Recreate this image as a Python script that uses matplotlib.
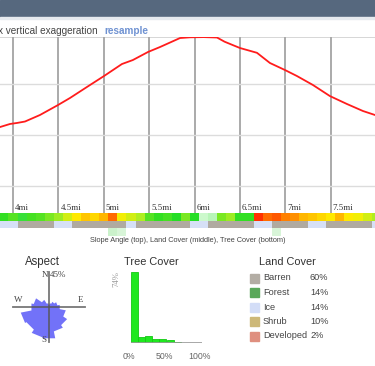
import numpy as np
import matplotlib
matplotlib.use("Agg")
import matplotlib.pyplot as plt
from matplotlib.colors import LinearSegmentedColormap
from matplotlib.patches import Rectangle, Polygon
import matplotlib.transforms as mtransforms

# ---- data ----
profile_mi = [3.857, 3.967, 4.044, 4.132, 4.297, 4.496, 4.628, 4.848, 5.002, 5.20, 5.32, 5.487,
              5.62, 5.84, 5.95, 6.10, 6.247, 6.33, 6.42, 6.50, 6.687, 6.83, 6.996, 7.128, 7.304,
              7.49, 7.678, 7.855, 7.987]
profile_ft = [11078, 11108, 11118, 11132, 11196, 11294, 11363, 11490, 11578, 11696, 11735, 11814,
              11863, 11951, 11958, 11960, 11956, 11915, 11882, 11853, 11806, 11706, 11637, 11578, 11490,
              11382, 11304, 11235, 11196]
mile_ticks = [4, 4.5, 5, 5.5, 6, 6.5, 7, 7.5]
mile_labels = ["4mi", "4.5mi", "5mi", "5.5mi", "6mi", "6.5mi", "7mi", "7.5mi"]

# 0.1 mi segments starting at 3.85 mi
slope_deg = [18, 20, 16, 19, 20, 22, 24, 27, 30, 32, 31, 33, 37, 29, 27, 25, 20, 18, 19, 17, 22,
             17, 6, 10, 22, 24, 18, 18, 41, 37, 38, 36, 35, 33, 32, 31, 30, 33, 30, 29, 27, 25]
land_code = ["I", "I", "B", "B", "B", "B", "I", "I", "B", "B", "B", "B", "B", "B", "I", "B", "B",
             "B", "B", "B", "B", "I", "I", "B", "B", "B", "B", "B", "I", "I", "B", "B", "B", "B",
             "I", "I", "B", "B", "B", "B", "B", "I"]
tree_pct = [0, 0, 0, 0, 0, 0, 0, 0, 0, 0, 0, 0, 20, 15, 0, 0, 0, 0, 0, 0, 0, 0, 0, 0, 0, 0, 0, 0,
            0, 0, 15, 0, 0, 0, 0, 0, 0, 0, 0, 0, 0, 0]

aspect_dirs = ["N", "NNE", "NE", "ENE", "E", "ESE", "SE", "SSE",
               "S", "SSW", "SW", "WSW", "W", "WNW", "NW", "NNW"]
aspect_pct = [3, 5, 8, 11, 14, 22, 28, 32, 41, 40, 35, 37, 23, 20, 11, 5]

tree_bins = [0, 10, 20, 30, 40, 50, 60, 70, 80, 90]
tree_hist = [74, 6, 7, 4, 4, 3, 1, 0, 0, 0]

cover_names = ["Barren", "Forest", "Ice", "Shrub", "Developed"]
cover_pct = ["60%", "14%", "14%", "10%", "2%"]
cover_colors = ["#b3ada4", "#5aa85a", "#d3ddf7", "#cdb878", "#df8f7f"]
land_colors = {"B": "#b0aaa0", "I": "#d6e0f6", "F": "#5aa85a", "S": "#cdb878"}

W, H = 375, 366
fig = plt.figure(figsize=(W / 100, H / 100), dpi=100)


def box(x0, y0, x1, y1):
    return [x0 / W, 1 - y1 / H, (x1 - x0) / W, (y1 - y0) / H]


# header bar
fig.patches.append(Rectangle((0, 1 - 17 / H), 1, 17 / H, transform=fig.transFigure,
                             color="#56687e", zorder=0))
fig.patches.append(Rectangle((0, 1 - 19 / H), 1, 2 / H, transform=fig.transFigure,
                             color="#e6eaef", zorder=0))
fig.text(-2 / W, 1 - 31 / H, "x vertical exaggeration", fontsize=7.2, color="#444444",
         family="Liberation Sans", va="center")
fig.text(104 / W, 1 - 31 / H, "resample", fontsize=7.2, color="#6f92d2",
         family="Liberation Sans", va="center", weight="bold")

# ---- elevation profile ----
xmin, xmax = 3.857, 7.987
ax = fig.add_axes(box(0, 37, 375, 213))
ax.plot(profile_mi, profile_ft, color="#ff1c1c", lw=1.3, zorder=3)
ax.set_xlim(xmin, xmax)
ax.set_ylim(10235, 11961)
ax.set_yticks([10500, 11000, 11500])
ax.set_xticks(mile_ticks)
ax.grid(axis="y", color="#dcdcdc", lw=1.0)
ax.grid(axis="x", color="#aaaaaa", lw=1.4)
ax.tick_params(length=0, labelbottom=False, labelleft=False)
for s in ax.spines.values():
    s.set_visible(False)
ax.axhline(11961, color="#cfcfcf", lw=1.2, zorder=1)
off = mtransforms.offset_copy(ax.get_xaxis_transform(), fig=fig, x=2, y=0, units="dots")
for m, lab in zip(mile_ticks, mile_labels):
    ax.text(m, 0.003, lab, transform=off, fontsize=6.4, family="Liberation Serif",
            color="#333333", ha="left", va="bottom")

# ---- bands ----
slope_cmap = LinearSegmentedColormap.from_list(
    "slope", [(0.0, "#eaffea"), (0.22, "#b8f5b8"), (0.38, "#22dd22"), (0.55, "#aaee22"),
              (0.66, "#ffee00"), (0.75, "#ffaa00"), (0.85, "#ff5500"), (1.0, "#ff0000")])
seg_start = 3.85 + 0.1 * np.arange(len(slope_deg))
bax = fig.add_axes(box(0, 213, 375, 236))
bax.set_xlim(xmin, xmax)
bax.set_ylim(0, 3)
bax.axis("off")
bax.bar(seg_start, 1.05, width=0.1, bottom=1.95, align="edge",
        color=slope_cmap(np.array(slope_deg) / 45.0), lw=0)
bax.bar(seg_start, 1.0, width=0.1, bottom=1.0, align="edge",
        color=[land_colors[c] for c in land_code], lw=0)
tree_cols = [(0.2, 0.8, 0.2, min(1.0, t / 80.0)) for t in tree_pct]
bax.bar(seg_start, 1.0, width=0.1, bottom=0.0, align="edge", color=tree_cols, lw=0)

fig.text(188 / W, 1 - 241 / H, "Slope Angle (top), Land Cover (middle), Tree Cover (bottom)",
         fontsize=5.3, color="#444444", family="Liberation Sans", ha="center", va="center")

# ---- aspect rose ----
rax = fig.add_axes(box(9, 267, 89, 347))
lim = 40 / 0.778
rax.set_xlim(-lim, lim)
rax.set_ylim(-lim, lim)
rax.axis("off")
pts = []
for i, r in enumerate(aspect_pct):
    for b in (22.5 * i - 11.25, 22.5 * i + 11.25):
        t = np.radians(b)
        pts.append((r * np.sin(t), r * np.cos(t)))
rax.add_patch(Polygon(pts, closed=True, facecolor="#7272f8", edgecolor="none"))
rax.plot([0, 0], [-45, 45], color="#555555", lw=1.3, alpha=0.8)
rax.plot([-46, 46], [0, 0], color="#555555", lw=1.3, alpha=0.8)
sf = dict(family="Liberation Serif", fontsize=6.5, color="#444444")
rax.text(-1.5, 40.5, "N", ha="right", va="center", **sf)
rax.text(1.5, 40.5, "45%", ha="left", va="center", **sf)
rax.text(-40, 9, "W", ha="center", va="center", **sf)
rax.text(40, 9, "E", ha="center", va="center", **sf)
rax.text(-6, -42.5, "S", ha="center", va="center", **sf)
fig.text(42 / W, 1 - 262 / H, "Aspect", fontsize=8.3, color="#333333",
         family="Liberation Sans", ha="center", va="center")

# ---- tree cover histogram ----
tax = fig.add_axes(box(131, 272, 202, 343))
tax.bar(tree_bins, tree_hist, width=10, align="edge", color="#1fe81f",
        edgecolor="#14c814", lw=0.6)
tax.set_xlim(0, 100)
tax.set_ylim(0, 74)
tax.axis("off")
tax.axhline(0, color="#999999", lw=1.2)
for v, lab in [(0, "0%"), (50, "50%"), (100, "100%")]:
    tax.text(v - 3, -14, lab, fontsize=6.3, color="#666666", family="Liberation Sans",
             ha="center", va="center")
fig.text(116 / W, 1 - 279 / H, "74%", rotation=90, fontsize=6.3, color="#999999",
         family="Liberation Serif", ha="center", va="center")
fig.text(151 / W, 1 - 262 / H, "Tree Cover", fontsize=7.9, color="#333333",
         family="Liberation Sans", ha="center", va="center")

# ---- land cover legend ----
fig.text(287 / W, 1 - 262 / H, "Land Cover", fontsize=7.9, color="#333333",
         family="Liberation Sans", ha="center", va="center")
for i, (name, pct, col) in enumerate(zip(cover_names, cover_pct, cover_colors)):
    yc = 278 + 14.5 * i
    fig.patches.append(Rectangle((250 / W, 1 - (yc + 4.5) / H), 9 / W, 9 / H,
                                 transform=fig.transFigure, color=col))
    fig.text(263 / W, 1 - yc / H, name, fontsize=6.6, color="#444444",
             family="Liberation Sans", va="center")
    fig.text(310 / W, 1 - yc / H, pct, fontsize=6.6, color="#444444",
             family="Liberation Sans", va="center")

fig.savefig("out.png", dpi=100)
